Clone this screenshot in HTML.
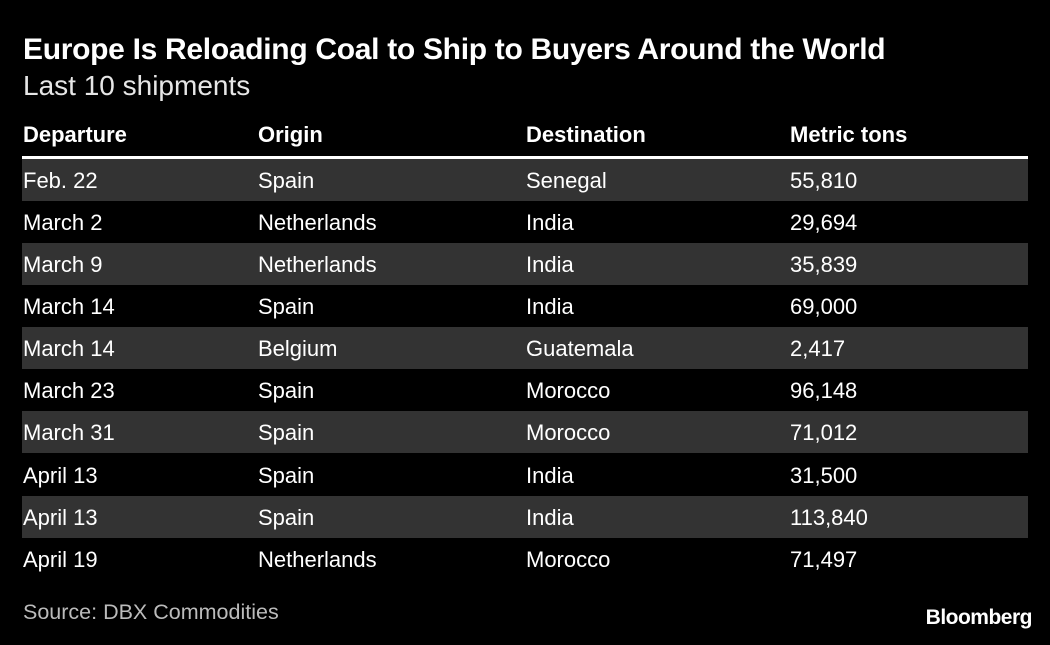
<!DOCTYPE html>
<html><head><style>
body{margin:0;width:1050px;height:645px;background:#000;color:#fff;font-family:"Liberation Sans",sans-serif;position:relative;overflow:hidden}
.t{position:absolute;left:23px;top:33px;font-size:30px;font-weight:bold;letter-spacing:-0.3px}
.s{position:absolute;left:23px;top:70px;font-size:28px;color:#e6e6e6}
.h{position:absolute;top:122px;font-size:22px;font-weight:bold}
.line{position:absolute;left:22px;width:1006px;top:156px;height:3px;background:#fff}
.row{position:absolute;left:22px;width:1006px;height:42px;font-size:22px;line-height:44px}
.row span{position:absolute;top:0}
.st{background:#333}
.src{position:absolute;left:23px;top:600px;font-size:21.5px;color:#bbb}
.bb{position:absolute;right:18px;top:606px;font-size:21px;font-weight:bold;letter-spacing:-0.5px}
</style></head><body>
<div class="t">Europe Is Reloading Coal to Ship to Buyers Around the World</div>
<div class="s">Last 10 shipments</div>
<div class="h" style="left:23px">Departure</div>
<div class="h" style="left:258px">Origin</div>
<div class="h" style="left:526px">Destination</div>
<div class="h" style="left:790px">Metric tons</div>
<div class="line"></div>
<div class="row st" style="top:159px"><span style="left:1px">Feb. 22</span><span style="left:236px">Spain</span><span style="left:504px">Senegal</span><span style="left:768px">55,810</span></div>
<div class="row" style="top:201px"><span style="left:1px">March 2</span><span style="left:236px">Netherlands</span><span style="left:504px">India</span><span style="left:768px">29,694</span></div>
<div class="row st" style="top:243px"><span style="left:1px">March 9</span><span style="left:236px">Netherlands</span><span style="left:504px">India</span><span style="left:768px">35,839</span></div>
<div class="row" style="top:285px"><span style="left:1px">March 14</span><span style="left:236px">Spain</span><span style="left:504px">India</span><span style="left:768px">69,000</span></div>
<div class="row st" style="top:327px"><span style="left:1px">March 14</span><span style="left:236px">Belgium</span><span style="left:504px">Guatemala</span><span style="left:768px">2,417</span></div>
<div class="row" style="top:369px"><span style="left:1px">March 23</span><span style="left:236px">Spain</span><span style="left:504px">Morocco</span><span style="left:768px">96,148</span></div>
<div class="row st" style="top:411px"><span style="left:1px">March 31</span><span style="left:236px">Spain</span><span style="left:504px">Morocco</span><span style="left:768px">71,012</span></div>
<div class="row" style="top:454px"><span style="left:1px">April 13</span><span style="left:236px">Spain</span><span style="left:504px">India</span><span style="left:768px">31,500</span></div>
<div class="row st" style="top:496px"><span style="left:1px">April 13</span><span style="left:236px">Spain</span><span style="left:504px">India</span><span style="left:768px">113,840</span></div>
<div class="row" style="top:538px"><span style="left:1px">April 19</span><span style="left:236px">Netherlands</span><span style="left:504px">Morocco</span><span style="left:768px">71,497</span></div>
<div class="src">Source: DBX Commodities</div>
<div class="bb">Bloomberg</div>
</body></html>
